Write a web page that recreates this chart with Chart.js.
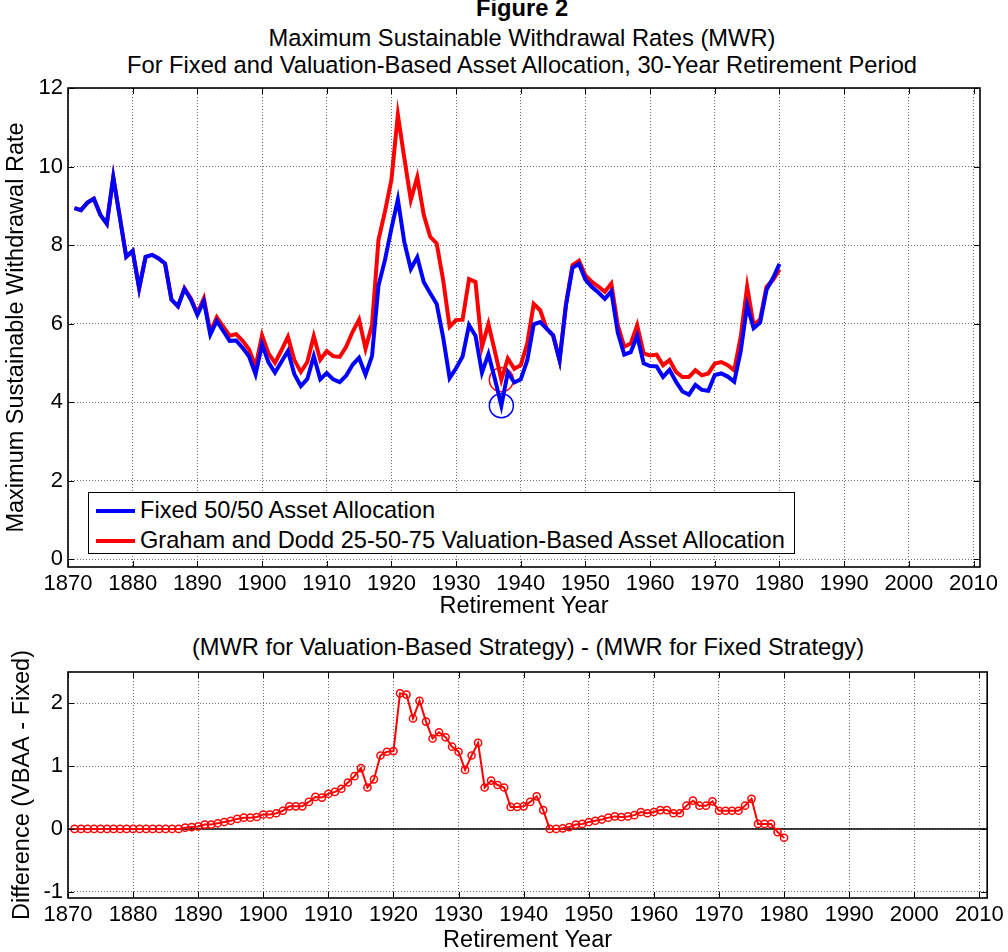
<!DOCTYPE html>
<html>
<head>
<meta charset="utf-8">
<script src="https://cdn.jsdelivr.net/npm/chart.js@4/dist/chart.umd.min.js"></script>
<style>
  body { margin: 0; background: #fff; overflow: hidden; font-family: 'Liberation Sans', Arial, sans-serif; color: #000; }
  .t { position: absolute; left: 36px; width: 972px; text-align: center; font-size: 23.7px; line-height: 23px; white-space: nowrap; }
  canvas { position: absolute; left: 0; }
  #legend { position: absolute; left: 88px; top: 492px; width: 705px; height: 60px; border: 1px solid #000; background: #fff; font-size: 23.6px; }
  #legend .row { position: absolute; left: 0; height: 30px; }
  #legend .sw { position: absolute; left: 7px; width: 39px; height: 4px; }
  #legend .lb { position: absolute; left: 51px; white-space: nowrap; line-height: 23px; }
</style>
</head>
<body>
<div class="t" style="top:-3px;font-weight:bold">Figure 2</div>
<div class="t" style="top:27px">Maximum Sustainable Withdrawal Rates (MWR)</div>
<div class="t" style="top:54px">For Fixed and Valuation-Based Asset Allocation, 30-Year Retirement Period</div>
<div class="t" style="top:636px;left:42px">(MWR for Valuation-Based Strategy) - (MWR for Fixed Strategy)</div>
<canvas id="topChart" width="1008" height="630" style="top:0"></canvas>
<canvas id="diffChart" width="1008" height="322" style="top:630px"></canvas>
<div id="legend"></div>
<script>
// retirement years
var years = [
  1871, 1872, 1873, 1874, 1875, 1876, 1877, 1878, 1879, 1880,
  1881, 1882, 1883, 1884, 1885, 1886, 1887, 1888, 1889, 1890,
  1891, 1892, 1893, 1894, 1895, 1896, 1897, 1898, 1899, 1900,
  1901, 1902, 1903, 1904, 1905, 1906, 1907, 1908, 1909, 1910,
  1911, 1912, 1913, 1914, 1915, 1916, 1917, 1918, 1919, 1920,
  1921, 1922, 1923, 1924, 1925, 1926, 1927, 1928, 1929, 1930,
  1931, 1932, 1933, 1934, 1935, 1936, 1937, 1938, 1939, 1940,
  1941, 1942, 1943, 1944, 1945, 1946, 1947, 1948, 1949, 1950,
  1951, 1952, 1953, 1954, 1955, 1956, 1957, 1958, 1959, 1960,
  1961, 1962, 1963, 1964, 1965, 1966, 1967, 1968, 1969, 1970,
  1971, 1972, 1973, 1974, 1975, 1976, 1977, 1978, 1979, 1980
];

// Fixed 50/50
var fixedMWR = [
  8.94, 8.89, 9.08, 9.18, 8.77, 8.54, 9.73, 8.72, 7.70, 7.85,
  6.90, 7.70, 7.75, 7.66, 7.53, 6.61, 6.44, 6.88, 6.61, 6.22,
  6.57, 5.72, 6.07, 5.81, 5.56, 5.57, 5.38, 5.16, 4.71, 5.47,
  5.01, 4.75, 5.03, 5.30, 4.71, 4.41, 4.59, 5.17, 4.58, 4.74,
  4.58, 4.51, 4.67, 4.95, 5.13, 4.70, 5.17, 6.96, 7.62, 8.42,
  9.16, 8.07, 7.39, 7.69, 7.06, 6.77, 6.50, 5.65, 4.61, 4.86,
  5.16, 5.96, 5.69, 4.75, 5.22, 4.59, 3.91, 4.76, 4.50, 4.58,
  5.06, 5.98, 6.04, 5.87, 5.70, 5.06, 6.48, 7.42, 7.52, 7.12,
  6.93, 6.79, 6.63, 6.82, 5.77, 5.21, 5.27, 5.69, 4.99, 4.92,
  4.91, 4.64, 4.82, 4.52, 4.27, 4.19, 4.44, 4.31, 4.29, 4.69,
  4.73, 4.65, 4.52, 5.29, 6.46, 5.88, 6.02, 6.86, 7.16, 7.52
];

// Graham and Dodd 25-50-75
var grahamMWR = [
  8.94, 8.89, 9.08, 9.18, 8.77, 8.54, 9.73, 8.72, 7.70, 7.85,
  6.90, 7.70, 7.75, 7.66, 7.53, 6.61, 6.44, 6.90, 6.64, 6.26,
  6.64, 5.79, 6.16, 5.92, 5.69, 5.73, 5.56, 5.34, 4.90, 5.70,
  5.24, 5.00, 5.32, 5.66, 5.07, 4.77, 5.02, 5.68, 5.08, 5.30,
  5.17, 5.15, 5.41, 5.79, 6.10, 5.36, 5.96, 8.13, 8.85, 9.66,
  11.32, 10.21, 9.15, 9.73, 8.77, 8.21, 8.04, 7.11, 5.92, 6.09,
  6.10, 7.13, 7.06, 5.41, 5.99, 5.29, 4.57, 5.11, 4.85, 4.94,
  5.49, 6.50, 6.34, 5.87, 5.70, 5.07, 6.51, 7.49, 7.60, 7.23,
  7.06, 6.94, 6.81, 7.02, 5.96, 5.41, 5.49, 5.96, 5.24, 5.19,
  5.21, 4.94, 5.07, 4.77, 4.64, 4.64, 4.81, 4.68, 4.73, 4.98,
  5.02, 4.94, 4.81, 5.66, 6.94, 5.96, 6.10, 6.94, 7.11, 7.38
];

// VBAA - Fixed
var diffMWR = [
  0.00, 0.00, 0.00, 0.00, 0.00, 0.00, 0.00, 0.00, 0.00, 0.00,
  0.00, 0.00, 0.00, 0.00, 0.00, 0.00, 0.00, 0.02, 0.03, 0.04,
  0.07, 0.07, 0.09, 0.11, 0.13, 0.16, 0.18, 0.18, 0.19, 0.23,
  0.23, 0.25, 0.29, 0.36, 0.36, 0.36, 0.43, 0.51, 0.50, 0.56,
  0.59, 0.64, 0.74, 0.84, 0.97, 0.66, 0.79, 1.17, 1.23, 1.24,
  2.16, 2.14, 1.76, 2.04, 1.71, 1.44, 1.54, 1.46, 1.31, 1.23,
  0.94, 1.17, 1.37, 0.66, 0.77, 0.70, 0.66, 0.35, 0.35, 0.36,
  0.43, 0.52, 0.30, 0.00, 0.00, 0.01, 0.03, 0.07, 0.08, 0.11,
  0.13, 0.15, 0.18, 0.20, 0.19, 0.20, 0.22, 0.27, 0.25, 0.27,
  0.30, 0.30, 0.25, 0.25, 0.37, 0.45, 0.37, 0.37, 0.44, 0.29,
  0.29, 0.29, 0.29, 0.37, 0.48, 0.08, 0.08, 0.08, -0.05, -0.14
];

var seriesNames = ["Fixed 50/50 Asset Allocation", "Graham and Dodd 25-50-75 Valuation-Based Asset Allocation"];
var seriesColors = ["#0000ff", "#ff0000"];

Chart.defaults.font.family = "'Liberation Sans', Arial, sans-serif";
Chart.defaults.color = "#000";
Chart.defaults.animation = false;

function pts(vals) {
  return years.map(function (yr, i) { return { x: yr, y: vals[i] }; });
}
function minPoint(vals) {
  var k = 0;
  for (var i = 1; i < vals.length; i++) if (vals[i] < vals[k]) k = i;
  return [{ x: years[k], y: vals[k] }];
}

// matlab style box with inner tick marks
var boxPlugin = {
  id: 'box',
  afterDraw: function (chart) {
    var a = chart.chartArea, ctx = chart.ctx;
    var sx = chart.scales.x, sy = chart.scales.y;
    ctx.save();
    ctx.strokeStyle = '#000';
    ctx.lineWidth = 1;
    ctx.beginPath();
    sx.ticks.forEach(function (t) {
      var p = Math.round(sx.getPixelForValue(t.value)) + 0.5;
      ctx.moveTo(p, a.bottom); ctx.lineTo(p, a.bottom - 6);
      ctx.moveTo(p, a.top); ctx.lineTo(p, a.top + 6);
    });
    sy.ticks.forEach(function (t) {
      var p = Math.round(sy.getPixelForValue(t.value)) + 0.5;
      ctx.moveTo(a.left, p); ctx.lineTo(a.left + 6, p);
      ctx.moveTo(a.right, p); ctx.lineTo(a.right - 6, p);
    });
    ctx.stroke();
    ctx.lineWidth = 1.6;
    ctx.strokeRect(a.left, a.top, a.right - a.left, a.bottom - a.top);
    ctx.restore();
  }
};

// solid zero line in the difference plot
var zeroPlugin = {
  id: 'zero',
  beforeDatasetsDraw: function (chart) {
    var a = chart.chartArea, ctx = chart.ctx;
    var p = chart.scales.y.getPixelForValue(0);
    ctx.save();
    ctx.strokeStyle = '#000';
    ctx.lineWidth = 1.5;
    ctx.beginPath();
    ctx.moveTo(a.left, p); ctx.lineTo(a.right, p);
    ctx.stroke();
    ctx.restore();
  }
};

var gridStyle = { color: '#707070', lineWidth: 1, drawTicks: false };
var borderStyle = { display: false, dash: [1, 2] };

function xAxis(maxYear, h, titlePad) {
  return {
    type: 'linear', min: 1870, max: maxYear,
    grid: gridStyle, border: borderStyle,
    ticks: { stepSize: 10, includeBounds: false, autoSkip: false, maxRotation: 0, maxTicksLimit: 30,
             padding: 4, font: { size: 22 }, callback: function (v) { return String(v); } },
    title: { display: true, text: 'Retirement Year', font: { size: 23.5, lineHeight: 1 }, padding: { top: 0, bottom: titlePad } },
    afterFit: function (s) { s.height = h; }
  };
}
function yAxis(min, max, step, label, titlePad) {
  return {
    min: min, max: max,
    grid: gridStyle, border: borderStyle,
    ticks: { stepSize: step, includeBounds: false, padding: 5, font: { size: 22 } },
    title: { display: true, text: label, font: { size: 23.5, lineHeight: 1 }, padding: { top: titlePad, bottom: 0 } },
    afterFit: function (s) { s.width = 68; }
  };
}

new Chart("topChart", {
  type: "line",
  data: {
    datasets: [
      { label: seriesNames[0], data: pts(fixedMWR), borderColor: seriesColors[0], borderWidth: 4, pointRadius: 0, tension: 0 },
      { label: seriesNames[1], data: pts(grahamMWR), borderColor: seriesColors[1], borderWidth: 4, pointRadius: 0, tension: 0 },
      { label: 'min fixed', data: minPoint(fixedMWR), showLine: false, pointRadius: 12, pointBorderWidth: 1.5,
        pointBorderColor: seriesColors[0], pointBackgroundColor: 'rgba(0,0,0,0)' },
      { label: 'min graham', data: minPoint(grahamMWR), showLine: false, pointRadius: 12, pointBorderWidth: 1.5,
        pointBorderColor: seriesColors[1], pointBackgroundColor: 'rgba(0,0,0,0)' }
    ]
  },
  options: {
    responsive: false,
    layout: { padding: { top: 88, right: 28, left: 0, bottom: 0 } },
    plugins: { legend: { display: false }, tooltip: { enabled: false } },
    scales: {
      x: xAxis(2011, 63, 12),
      y: yAxis(-0.2, 12, 2, 'Maximum Sustainable Withdrawal Rate', 5)
    }
  },
  plugins: [boxPlugin]
});

new Chart("diffChart", {
  type: "line",
  data: {
    datasets: [
      { label: 'difference', data: pts(diffMWR), borderColor: '#ff0000', borderWidth: 2, tension: 0,
        pointRadius: 3.6, pointBorderWidth: 1.5, pointBorderColor: '#ff0000', pointBackgroundColor: 'rgba(0,0,0,0)' }
    ]
  },
  options: {
    responsive: false,
    layout: { padding: { top: 42, right: 20, left: 0, bottom: 0 } },
    plugins: { legend: { display: false }, tooltip: { enabled: false } },
    scales: {
      x: xAxis(2011.2, 54, 0),
      y: yAxis(-1.1, 2.5, 1, 'Difference (VBAA - Fixed)', 11)
    }
  },
  plugins: [zeroPlugin, boxPlugin]
});

// legend inside the top axes
var lg = document.getElementById('legend');
seriesNames.forEach(function (name, i) {
  var row = document.createElement('div');
  row.className = 'row';
  row.style.top = (3 + i * 30) + 'px';
  row.innerHTML = '<div class="sw" style="top:13px;background:' + seriesColors[i] + '"></div>' +
                  '<div class="lb" style="top:3px">' + name + '</div>';
  lg.appendChild(row);
});
</script>
</body>
</html>
